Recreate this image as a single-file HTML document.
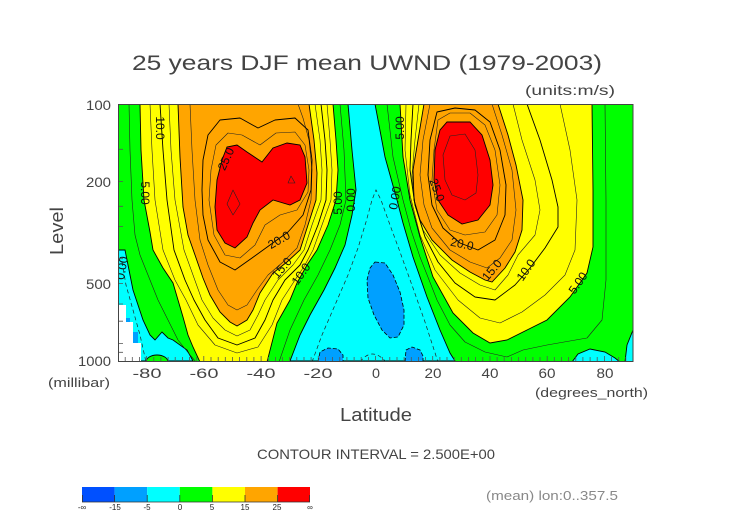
<!DOCTYPE html>
<html>
<head>
<meta charset="utf-8">
<style>
  html,body{margin:0;padding:0;background:#fff;}
  svg{display:block;}
  text{font-family:"Liberation Sans", sans-serif;}
</style>
</head>
<body>
<svg width="752" height="532" viewBox="0 0 752 532" xmlns="http://www.w3.org/2000/svg">
  <defs>
    <clipPath id="plot"><rect x="118" y="104" width="515" height="257"/></clipPath>
  </defs>

  <!-- Title -->
  <text x="132" y="70" font-size="21" fill="#444" textLength="470" lengthAdjust="spacingAndGlyphs">25 years DJF mean UWND (1979-2003)</text>
  <text x="525" y="95" font-size="14" fill="#444" textLength="90" lengthAdjust="spacingAndGlyphs">(units:m/s)</text>

  <g clip-path="url(#plot)">
    <rect x="118" y="104" width="515" height="257" fill="#00ff00"/>

    <polygon fill="#00ffff" stroke="#000" stroke-width="0.9" points="348,104 352,150 356,190 352,215 345,245 335,268 324,290 310,315 300,335 290,361 455,361 450,353 440,330 427,297 413,257 403,223 397,200 385,157 375,104"/>
    <polygon fill="#00ffff" stroke="#000" stroke-width="0.9" points="118,250 125,250 128,265 133,290 143,320 150,335 155,340 162,332 168,338 173,340 187,350 193,361 118,361"/>
    <polygon fill="#00ffff" stroke="#000" stroke-width="0.9" points="572,362 578,354 590,349 605,352 615,358 620,362"/>
    <polygon fill="#00ffff" stroke="#000" stroke-width="0.9" points="625,362 627,345 633,330 634,362"/>

    <ellipse cx="157" cy="362" rx="11" ry="7" fill="#00ff00" stroke="#000" stroke-width="0.9"/>

    <polygon fill="#ffff00" stroke="#000" stroke-width="0.9" points="140,104 141,150 144,200 150,232 153,250 163,268 173,283 178,300 183,317 188,335 193,347 200,362 267,362 277,323 290,300 297,283 307,265 317,250 328,225 336,200 338,170 336,140 333,104"/>
    <polygon fill="#ffa500" stroke="#000" stroke-width="0.9" points="178,104 180,157 183,207 188,235 195,255 203,278 210,295 220,312 230,322 237,326 247,320 253,310 260,293 273,273 287,262 300,250 308,225 316,200 317,173 314,140 309,104"/>
    <polygon fill="#ff0000" stroke="#000" stroke-width="0.9" points="215,207 217,180 222,160 227,147 237,145 247,152 262,162 273,148 287,143 300,145 305,157 307,183 300,200 290,205 273,200 260,210 253,223 247,237 235,248 225,243 217,230"/>

    <polygon fill="#ffff00" stroke="#000" stroke-width="0.9" points="400,104 403,157 410,200 420,237 433,277 453,313 473,333 490,343 507,340 527,330 547,320 570,297 587,273 593,247 593,190 592,104"/>
    <polygon fill="#ffa500" stroke="#000" stroke-width="0.9" points="424,104 418,140 413,170 414,200 420,220 432,240 452,260 470,272 485,280 492,282 505,268 515,252 522,230 523,200 516,165 508,135 498,104"/>
    <polygon fill="#ff0000" stroke="#000" stroke-width="0.9" points="447,122 470,122 482,135 490,160 493,185 490,205 478,220 462,224 448,215 438,200 434,180 435,150 440,130"/>

    <polygon fill="#00a0ff" stroke="#000" stroke-width="0.8" stroke-dasharray="4,2" points="375,262 385,263 393,275 400,292 404,310 404,325 398,337 390,338 382,330 374,315 368,298 367,280 370,268"/>
    <polygon fill="#00a0ff" stroke="#000" stroke-width="0.8" stroke-dasharray="4,2" points="318,362 320,352 328,348 338,349 343,355 343,362"/>
    <polygon fill="#00a0ff" stroke="#000" stroke-width="0.8" stroke-dasharray="4,2" points="405,362 406,350 412,347 420,350 423,356 423,362"/>
    <rect x="126" y="318" width="4" height="12" fill="#00a0ff"/>
    <rect x="133" y="332" width="5" height="11" fill="#00a0ff"/>

    <polygon fill="#ffffff" points="118,305 126,305 126,322 133,322 133,343 141,343 141,362 117,362"/>

    <g fill="none" stroke="#222" stroke-width="0.6" stroke-linejoin="round">
      <polyline points="129,104 130,150 132,200 135,235 140,255 150,280 158,300 168,320 178,340 190,355 196,362"/>
      <polyline points="340,104 344,150 346,200 340,225 330,250 318,275 304,300 290,330 279,362"/>
      <polyline points="150,104 152,150 155,200 163,250 175,280 186,300 198,325 215,345 237,353 258,347 272,325 282,300 295,280 305,265 313,250 322,225 331,200 332,170 330,140 327,104"/>
      <polyline points="169,104 171,150 175,200 184,250 193,275 202,300 213,318 225,330 237,336 250,330 258,315 265,300 278,280 293,265 304,250 312,225 321,200 322,170 320,140 315,104"/>
      <polyline points="190,104 192,150 195,200 200,240 208,265 218,290 228,305 237,310 247,305 257,290 268,275 283,262 297,248 305,225 311,200 312,170 309,140 303,118 298,104"/>
      <polygon points="209,200 211,170 216,145 228,133 242,135 260,145 276,133 295,132 305,145 309,170 308,192 297,210 280,215 265,225 255,245 240,258 225,255 214,235"/>
      <polygon points="233,190 240,204 233,215 227,204"/>
      <polygon points="291,176 295,183 288,183"/>
      <polyline points="387,104 393,157 403,200 411,230 420,257 437,300 450,325 465,342 485,352 507,357 523,350 547,345 587,338 602,320 606,280 606,200 605,104"/>
      <polyline points="406,104 405,150 410,195 420,235 435,270 458,300 480,318 500,323 522,312 545,295 565,275 575,250 577,200 570,150 560,104"/>
      <polyline points="419,104 415,140 412,175 415,205 423,230 440,255 460,273 480,285 495,290 508,275 518,255 535,235 540,210 535,180 522,140 513,104"/>
      <polyline points="430,104 423,140 420,175 424,205 432,228 450,250 470,262 487,268 500,258 512,240 516,210 512,170 502,135 492,104"/>
      <polygon points="438,120 434,150 432,180 437,210 450,230 465,235 485,232 497,215 500,185 495,150 485,125 470,113 450,113"/>
      <polygon points="450,136 465,134 475,150 478,175 476,193 465,200 452,195 445,180 443,155"/>
    </g>
    <g fill="none" stroke="#000" stroke-width="0.9" stroke-linejoin="round">
      <polyline points="160,104 163,150 167,200 174,250 185,280 194,300 205,320 218,338 237,345 255,338 265,320 273,300 285,280 300,265 308,250 318,225 326,200 327,170 325,140 321,104"/>
      <polygon points="202,190 203,160 208,135 220,120 240,118 258,128 275,120 295,118 308,130 312,160 311,190 303,215 288,232 270,245 252,258 235,270 220,262 208,240 203,215"/>
      <polyline points="413,104 411,140 410,170 415,205 425,237 438,262 455,283 475,297 495,300 515,285 530,268 545,248 558,227 558,207 552,180 540,140 527,104"/>
      <polygon points="437,112 430,140 428,175 432,205 443,228 460,243 478,250 495,240 505,215 506,185 500,150 490,122 475,110 455,108"/>
    </g>
    <g fill="none" stroke="#222" stroke-width="0.7" stroke-dasharray="4,3">
      <polyline points="312,362 322,335 335,305 348,275 358,248 366,222 372,200 376,190 381,200 390,225 400,252 413,288 425,322 438,362"/>
      <polyline points="122,262 126,285 133,310 140,335 146,362"/>
      <path d="M360 362 Q372 346 386 362"/>
    </g>

    <g font-size="12" fill="#111" text-anchor="middle" dominant-baseline="central">
      <text transform="translate(160,128) rotate(90)">10.0</text>
      <text transform="translate(145,193) rotate(90)">5.00</text>
      <text transform="translate(122,268) rotate(-80)">0.00</text>
      <text transform="translate(226,159) rotate(-65)">25.0</text>
      <text transform="translate(279,240) rotate(-30)">20.0</text>
      <text transform="translate(282,268) rotate(-50)">15.0</text>
      <text transform="translate(301,274) rotate(-55)">10.0</text>
      <text transform="translate(338,203) rotate(-90)">5.00</text>
      <text transform="translate(351,200) rotate(-90)">0.00</text>
      <text transform="translate(400,128) rotate(-90)">5.00</text>
      <text transform="translate(395,198) rotate(-80)">0.00</text>
      <text transform="translate(437,190) rotate(70)">25.0</text>
      <text transform="translate(462,244) rotate(12)">20.0</text>
      <text transform="translate(492,270) rotate(-50)">15.0</text>
      <text transform="translate(526,270) rotate(-55)">10.0</text>
      <text transform="translate(578,283) rotate(-55)">5.00</text>
    </g>
  </g>

  <g stroke="#555" stroke-width="0.8">
    <path d="M125.2 361v-4M132.3 361v-4M139.5 361v-4M146.6 361v-5M153.8 361v-4M160.9 361v-4M168.1 361v-4M175.2 361v-4M182.4 361v-4M189.5 361v-4M196.7 361v-4M203.8 361v-5M211 361v-4M218.2 361v-4M225.3 361v-4M232.5 361v-4M239.6 361v-4M246.8 361v-4M253.9 361v-4M261.1 361v-5M268.2 361v-4M275.4 361v-4M282.5 361v-4M289.7 361v-4M296.8 361v-4M304 361v-4M311.1 361v-4M318.3 361v-5M325.4 361v-4M332.6 361v-4M339.8 361v-4M346.9 361v-4M354.1 361v-4M361.2 361v-4M368.4 361v-4M375.5 361v-5M382.6 361v-4M389.8 361v-4M397 361v-4M404.1 361v-4M411.3 361v-4M418.4 361v-4M425.6 361v-4M432.7 361v-5M439.9 361v-4M447 361v-4M454.2 361v-4M461.3 361v-4M468.5 361v-4M475.6 361v-4M482.8 361v-4M490 361v-5M497.1 361v-4M504.2 361v-4M511.4 361v-4M518.6 361v-4M525.7 361v-4M532.9 361v-4M540 361v-4M547.2 361v-5M554.3 361v-4M561.5 361v-4M568.6 361v-4M575.8 361v-4M582.9 361v-4M590.1 361v-4M597.2 361v-4M604.4 361v-5M611.5 361v-4M618.7 361v-4M625.8 361v-4"/>
    <path d="M118 149.3h5M118 181.4h5M118 206.3h5M118 226.6h5M118 258.7h5M118 283.6h5M118 304h5M118 321.2h5M118 343.4h5M118 352.3h5"/>
  </g>

  <rect x="118.5" y="104.5" width="514.5" height="257" fill="none" stroke="#444" stroke-width="1"/>

  <g font-size="14" fill="#444" text-anchor="end">
    <text x="111" y="110" textLength="25" lengthAdjust="spacingAndGlyphs">100</text>
    <text x="111" y="187" textLength="25" lengthAdjust="spacingAndGlyphs">200</text>
    <text x="111" y="289" textLength="25" lengthAdjust="spacingAndGlyphs">500</text>
    <text x="111" y="366" textLength="33" lengthAdjust="spacingAndGlyphs">1000</text>
  </g>
  <text transform="translate(63,231) rotate(-90)" font-size="18" fill="#444" text-anchor="middle" textLength="48" lengthAdjust="spacingAndGlyphs">Level</text>
  <text x="48" y="387" font-size="13" fill="#444" textLength="62" lengthAdjust="spacingAndGlyphs">(millibar)</text>

  <g font-size="14" fill="#444" text-anchor="middle">
    <text x="147" y="378" textLength="29" lengthAdjust="spacingAndGlyphs">-80</text>
    <text x="204" y="378" textLength="29" lengthAdjust="spacingAndGlyphs">-60</text>
    <text x="261" y="378" textLength="29" lengthAdjust="spacingAndGlyphs">-40</text>
    <text x="318" y="378" textLength="29" lengthAdjust="spacingAndGlyphs">-20</text>
    <text x="376" y="378" textLength="8" lengthAdjust="spacingAndGlyphs">0</text>
    <text x="433" y="378" textLength="17" lengthAdjust="spacingAndGlyphs">20</text>
    <text x="490" y="378" textLength="17" lengthAdjust="spacingAndGlyphs">40</text>
    <text x="547" y="378" textLength="17" lengthAdjust="spacingAndGlyphs">60</text>
    <text x="605" y="378" textLength="17" lengthAdjust="spacingAndGlyphs">80</text>
  </g>
  <text x="535" y="397" font-size="13" fill="#444" textLength="113" lengthAdjust="spacingAndGlyphs">(degrees_north)</text>
  <text x="340" y="421" font-size="18" fill="#444" textLength="72" lengthAdjust="spacingAndGlyphs">Latitude</text>

  <text x="257" y="459" font-size="14" fill="#444" textLength="238" lengthAdjust="spacingAndGlyphs">CONTOUR INTERVAL = 2.500E+00</text>

  <g>
    <rect x="82" y="487" width="32.6" height="15" fill="#0050ff"/>
    <rect x="114.6" y="487" width="32.6" height="15" fill="#00a0ff"/>
    <rect x="147.2" y="487" width="32.6" height="15" fill="#00ffff"/>
    <rect x="179.8" y="487" width="32.6" height="15" fill="#00ff00"/>
    <rect x="212.4" y="487" width="32.6" height="15" fill="#ffff00"/>
    <rect x="245" y="487" width="32.6" height="15" fill="#ffa500"/>
    <rect x="277.6" y="487" width="32.4" height="15" fill="#ff0000"/>
    <path d="M82 502h228M82.5 495v7M114.6 495v7M147.2 495v7M179.8 495v7M212.4 495v7M245 495v7M277.6 495v7M309.5 495v7" stroke="#333" stroke-width="0.8" fill="none"/>
  </g>
  <g font-size="8" fill="#222" text-anchor="middle">
    <text x="82" y="510">-∞</text>
    <text x="115" y="510">-15</text>
    <text x="147" y="510">-5</text>
    <text x="180" y="510">0</text>
    <text x="212" y="510">5</text>
    <text x="245" y="510">15</text>
    <text x="277" y="510">25</text>
    <text x="310" y="510">∞</text>
  </g>

  <text x="486" y="500" font-size="13" fill="#888" textLength="132" lengthAdjust="spacingAndGlyphs">(mean) lon:0..357.5</text>
</svg>
</body>
</html>
